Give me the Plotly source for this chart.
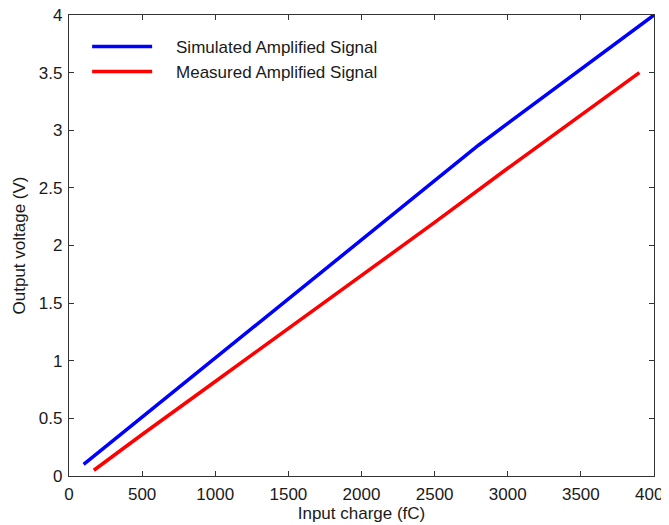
import plotly.graph_objects as go

# charge (fC) vs output voltage (V)
sim_charge = [100, 500, 1000, 1500, 2000, 2500, 2800, 3000, 3500, 4000]
sim_voltage = [0.10, 0.51, 1.03, 1.54, 2.05, 2.57, 2.87, 3.06, 3.53, 4.00]

meas_charge = [170, 500, 1000, 1500, 2000, 2500, 3000, 3500, 3900]
meas_voltage = [0.05, 0.36, 0.82, 1.28, 1.74, 2.20, 2.67, 3.13, 3.50]

x_ticks = [0, 500, 1000, 1500, 2000, 2500, 3000, 3500, 4000]
y_ticks = [0, 0.5, 1, 1.5, 2, 2.5, 3, 3.5, 4]

pad = '\u00a0' * 4  # push legend text away from the sample line

fig = go.Figure()
fig.add_trace(go.Scatter(x=sim_charge, y=sim_voltage, mode='lines',
                         name=pad + 'Simulated Amplified Signal',
                         line=dict(color='#0000ff', width=3.5)))
fig.add_trace(go.Scatter(x=meas_charge, y=meas_voltage, mode='lines',
                         name=pad + 'Measured Amplified Signal',
                         line=dict(color='#ff0000', width=3.5)))

axis_style = dict(showgrid=False, zeroline=False, showline=True, mirror='allticks',
                  linecolor='#333333', linewidth=1.3, ticks='inside', ticklen=5,
                  tickcolor='#333333', automargin=False, ticklabelstandoff=2,
                  ticklabeloverflow='allow',
                  tickfont=dict(size=17, color='#1a1a1a'))

fig.update_xaxes(range=[0, 4000], tickvals=x_ticks,
                 title=dict(text='Input charge (fC)', font=dict(size=17, color='#1a1a1a'), standoff=4),
                 **axis_style)
fig.update_yaxes(range=[0, 4], tickvals=y_ticks,
                 ticktext=[f'{v:g}' for v in y_ticks],
                 title=dict(text='Output voltage (V)', font=dict(size=17, color='#1a1a1a'), standoff=8),
                 **axis_style)

# the page body adds an 8px margin, so the figure is 8px smaller each way
fig.update_layout(width=661, height=517,
                  margin=dict(l=61, r=15, t=7, b=49),
                  paper_bgcolor='white', plot_bgcolor='white',
                  font=dict(family='Liberation Sans, Arial, sans-serif', size=17, color='#1a1a1a'),
                  legend=dict(x=0.031, y=0.97, xanchor='left', yanchor='top',
                              bgcolor='rgba(0,0,0,0)', itemwidth=60,
                              font=dict(size=17)))

fig.write_html("out.html")
